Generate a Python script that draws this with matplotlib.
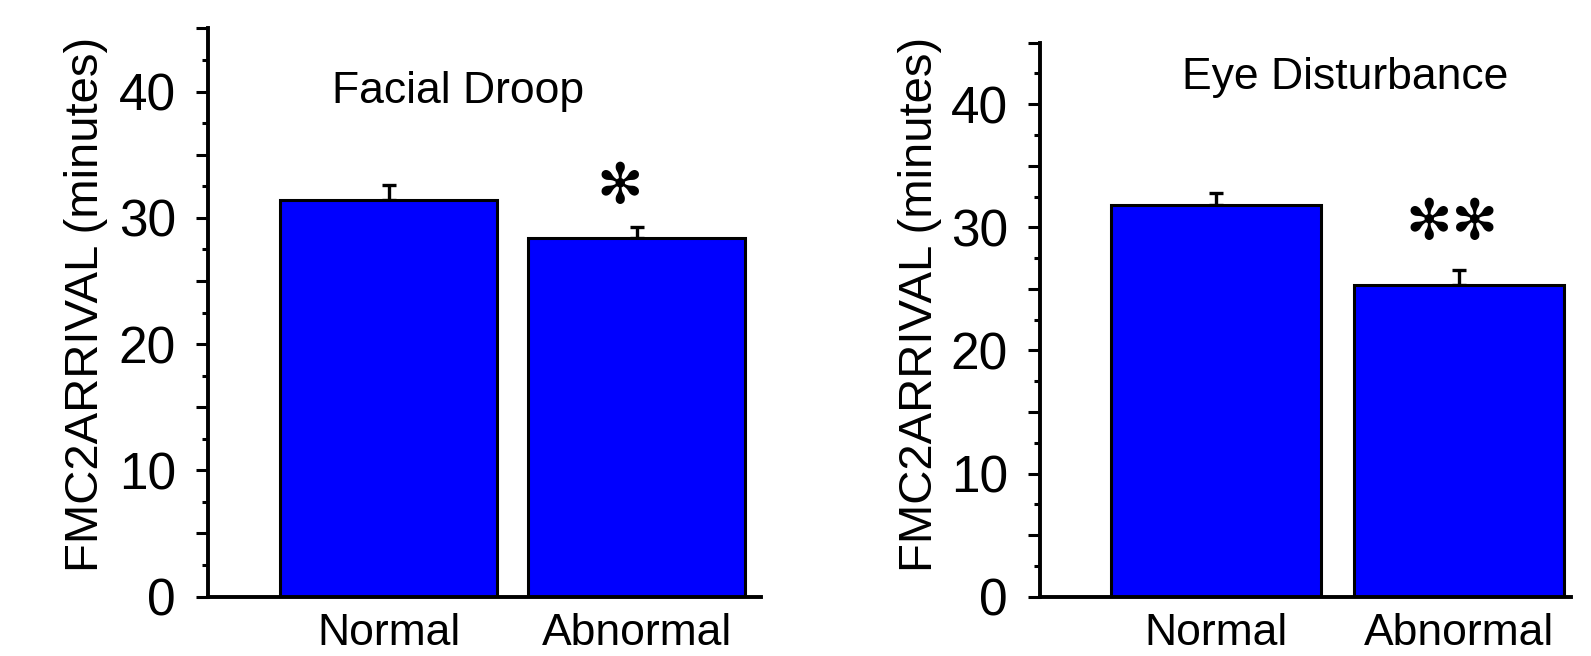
import matplotlib.pyplot as plt
from matplotlib.ticker import MultipleLocator, FuncFormatter

plt.rcParams['font.family'] = ['Liberation Sans', 'DejaVu Sans']

# data
groups = ["Normal", "Abnormal"]
droop_mean = [31.4, 28.4]
droop_err = [1.2, 0.9]
eye_mean = [31.85, 25.3]
eye_err = [0.9, 1.2]

titles = ["Facial Droop", "Eye Disturbance"]
stars = ["\u273b", "\u273b\u273b"]
ylabel = "FMC2ARRIVAL (minutes)"

fig = plt.figure(figsize=(15.91, 6.56), dpi=100)
ax1 = fig.add_axes([0.1307, 0.0905, 0.3476, 0.8662])
ax2 = fig.add_axes([0.6537, 0.0905, 0.3338, 0.8445])


def draw(ax, means, errs, title, star, width, xlim, title_pos, star_pos):
    x = list(range(len(groups)))
    ax.bar(x, means, width=width, color="#0000ff", edgecolor="black",
           linewidth=2.2, zorder=2)
    ax.errorbar(x, means, yerr=[[0] * len(errs), errs], fmt="none",
                ecolor="black", elinewidth=2.4, capsize=5, capthick=2.4,
                zorder=1)
    ax.set_xlim(*xlim)
    ax.set_ylim(0, 45)
    ax.set_xticks(x)
    ax.set_xticklabels(groups, fontsize=32)
    ax.tick_params(axis="x", length=0, pad=12)
    ax.yaxis.set_major_locator(MultipleLocator(5))
    ax.yaxis.set_minor_locator(MultipleLocator(2.5))
    ax.yaxis.set_major_formatter(
        FuncFormatter(lambda v, p: "%d" % v if v % 10 == 0 else ""))
    ax.tick_params(axis="y", which="major", length=9, width=2.2,
                   labelsize=37, pad=14)
    ax.tick_params(axis="y", which="minor", length=4, width=2.2)
    for s in ["top", "right"]:
        ax.spines[s].set_visible(False)
    for s in ["left", "bottom"]:
        ax.spines[s].set_linewidth(2.8)
    ax.text(title_pos[0], title_pos[1], title, fontsize=32,
            ha="center", va="center")
    ax.text(star_pos[0], star_pos[1], star, fontsize=40,
            family="DejaVu Sans", ha="center", va="center")


draw(ax1, droop_mean, droop_err, titles[0], stars[0], 0.875,
     (-0.728, 1.501), (0.28, 40.0), (0.93, 32.4))
draw(ax2, eye_mean, eye_err, titles[1], stars[1], 0.866,
     (-0.726, 1.462), (0.53, 42.2), (0.97, 30.3))

fig.text(0.054, 0.536, ylabel, rotation=90, fontsize=34,
         ha="center", va="center")
fig.text(0.578, 0.536, ylabel, rotation=90, fontsize=34,
         ha="center", va="center")

fig.savefig("out.png", dpi=100)
